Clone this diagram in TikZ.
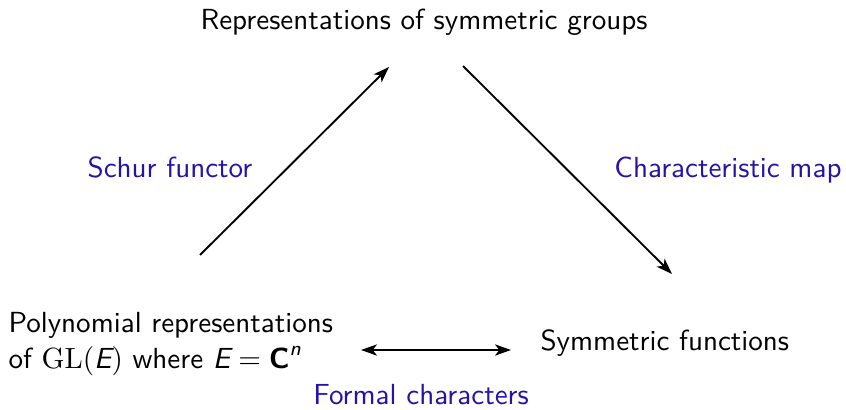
\documentclass[tikz,border=0pt]{standalone}
\usepackage{amsmath}
\usetikzlibrary{arrows.meta}
\definecolor{lblblue}{RGB}{38,18,168}
\newcommand{\sfit}[1]{\text{\sffamily\itshape #1}}
\begin{document}
\begin{tikzpicture}[x=0.375pt,y=-0.375pt,
  txt/.style={font=\fontsize{10.9}{13.5}\selectfont\sffamily, inner sep=0pt},
  lbl/.style={font=\fontsize{10.9}{13.5}\selectfont\sffamily, text=lblblue, inner sep=0pt},
  arr/.style={line width=0.7pt, -{Stealth[length=6pt,width=4.2pt,inset=1.6pt]}},
  darr/.style={line width=0.7pt, {Stealth[length=6pt,width=4.2pt,inset=1.6pt]}-{Stealth[length=6pt,width=4.2pt,inset=1.6pt]}}]
\useasboundingbox (0,0) rectangle (846,409);
\node[txt, anchor=base] (rep) at (424,30) {Representations of symmetric groups};
\node[txt, anchor=base west, align=left] (poly) at (8,368) {Polynomial representations\\of $\mathrm{GL}(\sfit{E})$ where $\sfit{E} = \text{\sffamily\bfseries C}^{\sfit{n}}$};
\node[txt, anchor=base west] (sym) at (540,350) {Symmetric functions};
\node[lbl, anchor=base] (schur) at (170,178) {Schur functor};
\node[lbl, anchor=base] (charm) at (728,178) {Characteristic map};
\node[lbl, anchor=base] (formal) at (421,404) {Formal characters};
\coordinate (s1) at (200,255);
\coordinate (s2) at (389,67);
\coordinate (c1) at (463,66);
\coordinate (c2) at (672,274);
\coordinate (f1) at (361,350);
\coordinate (f2) at (511,350);
\draw[arr] (s1) -- (s2);
\draw[arr] (c1) -- (c2);
\draw[darr] (f1) -- (f2);
\end{tikzpicture}
\end{document}
